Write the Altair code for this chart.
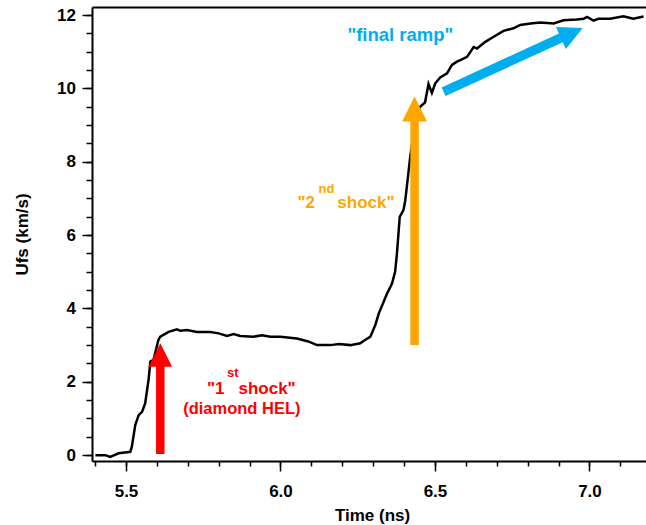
import altair as alt
import pandas as pd

time_ns = [5.401, 5.433, 5.449, 5.476, 5.503, 5.514, 5.519, 5.530, 5.541, 5.552,
           5.562, 5.573, 5.579, 5.589, 5.605, 5.611, 5.638, 5.665, 5.676, 5.697,
           5.730, 5.773, 5.800, 5.827, 5.848, 5.870, 5.913, 5.940, 5.967, 6.000,
           6.053, 6.090, 6.118, 6.161, 6.190, 6.226, 6.258, 6.274, 6.291, 6.307,
           6.318, 6.334, 6.345, 6.361, 6.371, 6.377, 6.386, 6.398, 6.404, 6.409,
           6.420, 6.431, 6.442, 6.452, 6.468, 6.479, 6.490, 6.501, 6.517, 6.539,
           6.555, 6.571, 6.582, 6.604, 6.625, 6.636, 6.663, 6.690, 6.722, 6.754,
           6.776, 6.809, 6.841, 6.884, 6.916, 6.959, 6.981, 6.992, 7.013, 7.029,
           7.067, 7.110, 7.142, 7.175]
ufs_kms = [0.00, 0.00, -0.05, 0.05, 0.08, 0.09, 0.23, 0.82, 1.09, 1.18,
           1.41, 2.05, 2.55, 2.60, 3.14, 3.23, 3.36, 3.43, 3.39, 3.41,
           3.36, 3.36, 3.32, 3.25, 3.30, 3.25, 3.23, 3.27, 3.23, 3.23,
           3.18, 3.10, 3.00, 3.00, 3.03, 3.00, 3.05, 3.14, 3.23, 3.55,
           3.86, 4.18, 4.41, 4.68, 5.00, 5.50, 6.50, 6.68, 6.95, 7.32,
           8.14, 8.77, 9.32, 9.50, 9.62, 10.12, 9.88, 10.14, 10.30, 10.41,
           10.64, 10.73, 10.77, 10.86, 11.13, 11.09, 11.27, 11.41, 11.57, 11.64,
           11.73, 11.77, 11.80, 11.77, 11.86, 11.88, 11.90, 11.95, 11.85, 11.90,
           11.90, 11.97, 11.90, 11.96]

# ---- axes ----
x_domain = [5.39, 7.183]
y_domain = [-0.16, 12.22]
x_major = [5.5, 6.0, 6.5, 7.0]
x_minor = [5.4, 5.5, 5.6, 5.7, 5.8, 5.9, 6.0, 6.1, 6.2, 6.3, 6.4, 6.5, 6.6,
           6.7, 6.8, 6.9, 7.0, 7.1]
y_major = [0, 2, 4, 6, 8, 10, 12]
y_minor = [0, 0.5, 1, 1.5, 2, 2.5, 3, 3.5, 4, 4.5, 5, 5.5, 6, 6.5, 7, 7.5, 8,
           8.5, 9, 9.5, 10, 10.5, 11, 11.5, 12]

# ---- arrows (data coordinates) ----
arrow_color = ["#FF0000", "#FFA500", "#00AEEF"]
shaft_t0 = [5.611, 6.434, 6.528]
shaft_v0 = [0.03, 3.00, 9.91]
shaft_t1 = [5.611, 6.434, 6.913]
shaft_v1 = [2.45, 9.15, 11.40]
shaft_w = [8.5, 8.5, 9.5]
head_t = [5.611, 6.434, 6.943]
head_v = [2.73, 9.44, 11.51]
head_angle = [0, 0, 65.4]
head_size = [552, 620, 576]

# ---- text annotations ----
txt_label = ['"1', 'st', 'shock"', '"2', 'nd', 'shock"']
txt_t = [5.762, 5.827, 5.864, 6.055, 6.123, 6.184]
txt_v = [1.666, 2.138, 1.666, 6.73, 7.14, 6.73]
txt_color = ["#FF0000", "#FF0000", "#FF0000", "#FFA500", "#FFA500", "#FFA500"]
txt_size = [17, 13, 17, 17, 13, 17]

ctr_label = ["(diamond HEL)", '"final ramp"']
ctr_t = [5.875, 6.388]
ctr_v = [1.12, 11.28]
ctr_color = ["#FF0000", "#00AEEF"]
ctr_size = [16.5, 18.5]

FONT = "Liberation Sans"

trace = pd.DataFrame({"t": time_ns, "v": ufs_kms})
xs = alt.Scale(domain=x_domain, zero=False, nice=False)
ys = alt.Scale(domain=y_domain, zero=False, nice=False)

common_axis = dict(grid=False, domainColor="black", tickColor="black",
                   labelColor="black", titleColor="black",
                   labelFont=FONT, titleFont=FONT, labelFontWeight="bold",
                   titleFontWeight="bold", labelFontSize=17, titleFontSize=17)

line = alt.Chart(trace).mark_line(color="black", strokeWidth=2.5).encode(
    x=alt.X("t:Q", scale=xs, axis=alt.Axis(
        orient="bottom", values=x_major, format=".1f", tickSize=10, tickWidth=1.5,
        domainWidth=2, labelPadding=12.5, labelFlush=False, title="Time (ns)",
        titleBaseline="alphabetic", titleY=59, titleX=280, titleAlign="center",
        **common_axis)),
    y=alt.Y("v:Q", scale=ys, axis=alt.Axis(
        orient="left", values=y_major, format="d", tickSize=10, tickWidth=1.5,
        domainWidth=2, labelPadding=6.5, labelFlush=False, title="Ufs (km/s)",
        titleBaseline="alphabetic", titleX=-65, titleAngle=270,
        **common_axis)),
)

minor = alt.Chart(trace).mark_line(opacity=0).encode(
    x=alt.X("t:Q", scale=xs, axis=alt.Axis(
        orient="bottom", values=x_minor, tickSize=5, tickWidth=1.5, labels=False,
        domain=False, title=None, grid=False, tickColor="black")),
    y=alt.Y("v:Q", scale=ys, axis=alt.Axis(
        orient="left", values=y_minor, tickSize=6, tickWidth=1.5, labels=False,
        domain=False, title=None, grid=False, tickColor="black")),
)

top = alt.Chart(trace).mark_line(opacity=0).encode(
    x=alt.X("t:Q", scale=xs, axis=alt.Axis(
        orient="top", ticks=False, labels=False, domain=True, domainWidth=2,
        domainColor="black", title=None, grid=False)),
    y=alt.Y("v:Q", scale=ys, axis=None),
)

arrows = pd.DataFrame({"t0": shaft_t0, "v0": shaft_v0, "t1": shaft_t1,
                       "v1": shaft_v1, "w": shaft_w, "c": arrow_color})
shafts = alt.Chart(arrows).mark_rule(strokeCap="butt").encode(
    x=alt.X("t0:Q", scale=xs, axis=None), y=alt.Y("v0:Q", scale=ys, axis=None),
    x2="t1:Q", y2="v1:Q",
    strokeWidth=alt.StrokeWidth("w:Q", scale=None, legend=None),
    color=alt.Color("c:N", scale=None, legend=None),
)

heads_df = pd.DataFrame({"t": head_t, "v": head_v, "a": head_angle,
                         "s": head_size, "c": arrow_color})
heads = alt.Chart(heads_df).mark_point(
    shape="M0,-1L1,1L-1,1Z", filled=True, opacity=1, strokeWidth=0).encode(
    x=alt.X("t:Q", scale=xs, axis=None), y=alt.Y("v:Q", scale=ys, axis=None),
    angle=alt.Angle("a:Q", scale=None),
    size=alt.Size("s:Q", scale=None, legend=None),
    color=alt.Color("c:N", scale=None, legend=None),
)

txt_df = pd.DataFrame({"label": txt_label, "t": txt_t, "v": txt_v,
                       "c": txt_color, "s": txt_size})
texts_left = alt.Chart(txt_df).mark_text(
    align="left", baseline="alphabetic", font=FONT, fontWeight="bold").encode(
    x=alt.X("t:Q", scale=xs, axis=None), y=alt.Y("v:Q", scale=ys, axis=None),
    text="label:N",
    size=alt.Size("s:Q", scale=None, legend=None),
    color=alt.Color("c:N", scale=None, legend=None),
)

ctr_df = pd.DataFrame({"label": ctr_label, "t": ctr_t, "v": ctr_v,
                       "c": ctr_color, "s": ctr_size})
texts_ctr = alt.Chart(ctr_df).mark_text(
    align="center", baseline="alphabetic", font=FONT, fontWeight="bold").encode(
    x=alt.X("t:Q", scale=xs, axis=None), y=alt.Y("v:Q", scale=ys, axis=None),
    text="label:N",
    size=alt.Size("s:Q", scale=None, legend=None),
    color=alt.Color("c:N", scale=None, legend=None),
)

chart = alt.layer(line, minor, top, shafts, heads, texts_left, texts_ctr).resolve_axis(
    x="independent", y="independent"
).properties(
    width=554, height=454,
    padding={"left": 92, "top": 7, "right": 0, "bottom": 64},
    autosize=alt.AutoSizeParams(type="none"),
    background="white",
).configure_view(stroke=None)

chart.save("out.html", embed_options={"renderer": "svg", "actions": False})
